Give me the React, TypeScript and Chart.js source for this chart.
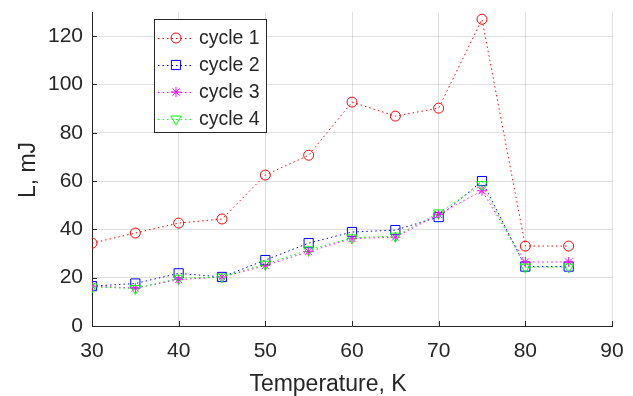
import React, { useEffect, useRef } from 'react';
import { Chart, registerables } from 'chart.js';

Chart.register(...registerables);

const temperatures = [30, 35, 40, 45, 50, 55, 60, 65, 70, 75, 80, 85];
const cycle1 = [34.3, 38.5, 42.6, 44.3, 62.5, 70.7, 92.7, 86.9, 90.2, 127, 33.1, 33.1];
const cycle2 = [16.5, 17.6, 21.8, 20.3, 27.3, 34.3, 38.9, 39.7, 45.1, 60.0, 24.6, 24.6];
const cycle3 = [16.5, 15.7, 19.2, 20.3, 25.0, 30.8, 36.2, 36.8, 46.2, 56.0, 26.5, 26.5];
const cycle4 = [16.2, 15.5, 19.8, 20.3, 25.6, 31.5, 36.5, 37.2, 46.8, 58.5, 24.4, 24.4];
const seriesLabels = ['cycle 1', 'cycle 2', 'cycle 3', 'cycle 4'];
const seriesColors = ['rgb(255,0,0)', 'rgb(0,0,255)', 'rgb(255,0,255)', 'rgb(0,255,0)'];
const seriesMarkers = ['circle', 'rect', 'star', 'triangle'];
const xTitle = 'Temperature, K';
const yTitle = 'L, mJ';

const FONT = "'Liberation Sans', Arial, Helvetica, sans-serif";
const TEXT = '#262626';

function drawMarker(ctx: CanvasRenderingContext2D, style: string, x: number, y: number, r: number) {
  ctx.beginPath();
  if (style === 'circle') {
    ctx.arc(x, y, r, 0, Math.PI * 2);
  } else if (style === 'rect') {
    const s = r * Math.SQRT1_2;
    ctx.rect(x - s, y - s, 2 * s, 2 * s);
  } else if (style === 'star') {
    ctx.moveTo(x - r, y); ctx.lineTo(x + r, y);
    ctx.moveTo(x, y - r); ctx.lineTo(x, y + r);
    const d = r * Math.SQRT1_2;
    ctx.moveTo(x - d, y - d); ctx.lineTo(x + d, y + d);
    ctx.moveTo(x - d, y + d); ctx.lineTo(x + d, y - d);
  } else if (style === 'triangle') {
    const a0 = Math.PI / 2;
    for (let i = 0; i < 3; i++) {
      const a = a0 + (i * 2 * Math.PI) / 3;
      const px = x + Math.cos(a) * r;
      const py = y + Math.sin(a) * r;
      if (i === 0) ctx.moveTo(px, py); else ctx.lineTo(px, py);
    }
    ctx.closePath();
  }
  ctx.stroke();
}

const innerTicksPlugin = {
  id: 'innerTicks',
  afterDatasetsDraw(chart: any) {
    const { ctx, chartArea, scales } = chart;
    ctx.save();
    ctx.strokeStyle = TEXT;
    ctx.lineWidth = 1;
    ctx.beginPath();
    scales.x.ticks.forEach((t: any) => {
      const px = Math.round(scales.x.getPixelForValue(t.value)) + 0.5;
      ctx.moveTo(px, chartArea.bottom);
      ctx.lineTo(px, chartArea.bottom - 5);
    });
    scales.y.ticks.forEach((t: any) => {
      const py = Math.round(scales.y.getPixelForValue(t.value)) + 0.5;
      ctx.moveTo(chartArea.left, py);
      ctx.lineTo(chartArea.left + 5, py);
    });
    ctx.stroke();
    ctx.restore();
  },
};

const titlesAndLegendPlugin = {
  id: 'titlesLegend',
  afterDraw(chart: any) {
    const { ctx } = chart;
    ctx.save();
    ctx.fillStyle = TEXT;
    ctx.font = `23px ${FONT}`;
    ctx.textAlign = 'center';
    ctx.textBaseline = 'alphabetic';
    ctx.fillText(xTitle, 328, 391);
    ctx.save();
    ctx.translate(35, 170);
    ctx.rotate(-Math.PI / 2);
    ctx.fillText(yTitle, 0, 0);
    ctx.restore();

    const bx = 154.5, by = 19.5, bw = 112, bh = 113;
    ctx.fillStyle = '#ffffff';
    ctx.fillRect(bx, by, bw, bh);
    ctx.strokeStyle = TEXT;
    ctx.lineWidth = 1;
    ctx.strokeRect(bx, by, bw, bh);

    const rowY = [38, 65, 92, 119];
    chart.data.datasets.forEach((ds: any, i: number) => {
      const y = rowY[i];
      ctx.strokeStyle = ds.borderColor;
      ctx.lineWidth = 1;
      ctx.setLineDash([1.5, 3]);
      ctx.beginPath();
      ctx.moveTo(158, y + 0.5);
      ctx.lineTo(194, y + 0.5);
      ctx.stroke();
      ctx.setLineDash([]);
      drawMarker(ctx, seriesMarkers[i], 176, y, ds.pointRadius);
      ctx.fillStyle = TEXT;
      ctx.font = `19.5px ${FONT}`;
      ctx.textAlign = 'left';
      ctx.textBaseline = 'middle';
      ctx.fillText(ds.label, 199, y + 1);
    });
    ctx.restore();
  },
};

export default function App() {
  const canvasRef = useRef<HTMLCanvasElement | null>(null);

  useEffect(() => {
    if (!canvasRef.current) return;
    const series = [cycle1, cycle2, cycle3, cycle4];
    const radii = [5, 6.5, 5, 6];
    const datasets = series.map((vals, i) => ({
      label: seriesLabels[i],
      data: temperatures.map((t, j) => ({ x: t, y: vals[j] })),
      borderColor: seriesColors[i],
      backgroundColor: 'transparent',
      borderWidth: 1,
      borderDash: [1.5, 3],
      pointStyle: seriesMarkers[i],
      pointRotation: seriesMarkers[i] === 'triangle' ? 180 : 0,
      pointRadius: radii[i],
      pointBorderColor: seriesColors[i],
      pointBackgroundColor: 'transparent',
      pointBorderWidth: 1,
      tension: 0,
      fill: false,
      order: 4 - i,
    }));

    const chart = new Chart(canvasRef.current, {
      type: 'line',
      data: { datasets },
      options: {
        animation: false,
        responsive: false,
        maintainAspectRatio: false,
        layout: { padding: { top: 12, right: 21, left: 0, bottom: 0 } },
        plugins: {
          legend: { display: false },
          tooltip: { enabled: false },
        },
        scales: {
          x: {
            type: 'linear',
            min: 30,
            max: 90,
            ticks: {
              stepSize: 10,
              includeBounds: false,
              color: TEXT,
              font: { family: FONT, size: 21 },
              padding: 13,
              maxRotation: 0,
            },
            grid: { color: 'rgba(38,38,38,0.15)', drawTicks: false },
            border: { display: true, color: TEXT, width: 1 },
            afterFit: (s: any) => {
              s.height = 70;
              s.paddingLeft = 0; s.paddingRight = 0; s.paddingTop = 0; s.paddingBottom = 0;
            },
          },
          y: {
            type: 'linear',
            min: 0,
            max: 130,
            ticks: {
              stepSize: 20,
              includeBounds: false,
              color: TEXT,
              font: { family: FONT, size: 21 },
              padding: 9,
            },
            grid: { color: 'rgba(38,38,38,0.15)', drawTicks: false },
            border: { display: true, color: TEXT, width: 1 },
            afterFit: (s: any) => {
              s.width = 92;
              s.paddingLeft = 0; s.paddingRight = 0; s.paddingTop = 0; s.paddingBottom = 0;
            },
          },
        },
      },
      plugins: [innerTicksPlugin, titlesAndLegendPlugin],
    } as any);

    return () => chart.destroy();
  }, []);

  return (
    <div style={{ position: 'fixed', left: 0, top: 0, width: 633, height: 396, background: '#ffffff' }}>
      <canvas ref={canvasRef} width={633} height={396} style={{ width: 633, height: 396, display: 'block' }} />
    </div>
  );
}
